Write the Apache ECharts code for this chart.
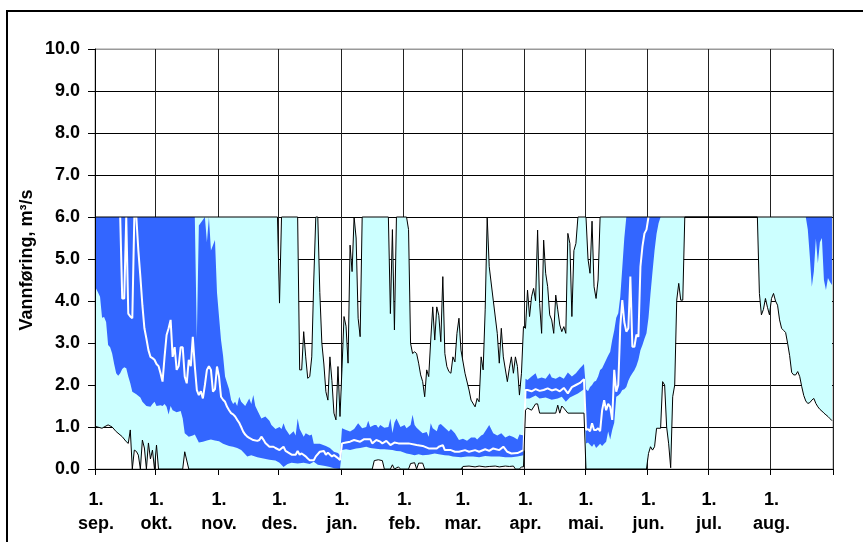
<!DOCTYPE html>
<html>
<head>
<meta charset="utf-8">
<script src="https://cdn.jsdelivr.net/npm/echarts@6/dist/echarts.min.js"></script>
<style>html,body{margin:0;padding:0;background:#fff}#c{width:863px;height:542px}</style>
</head>
<body>
<div id="c"></div>
<script>
// Axis categories: one per day, 1 Sep .. 31 Aug (leap year)
const monthNames = ['sep.','okt.','nov.','des.','jan.','feb.','mar.','apr.','mai.','jun.','jul.','aug.'];
const monthLengths = [30,31,30,31,31,29,31,30,31,30,31,31];
const yTicks = [0,1,2,3,4,5,6,7,8,9,10];
const yAxisTitle = 'Vannføring, m³/s';

// [dayIndex, m3/s] – highest observed (upper black line, cut at 6)
const maxFlow = [[0,6],[90,6],[91,3.95],[92,6],[100,6],[101,2.36],[102,2.36],[103,3.27],[104,2.67],[105,2.16],[106,2.2],[107,2.67],[108,4.5],[109,6],[110,6],[111,4.2],[112,3.0],[113,2.5],[114,1.84],[115,1.64],[116,2.67],[117,2.1],[118,1.33],[119,1.17],[120,2.44],[121,1.25],[122,2.4],[123,3.63],[124,3.4],[125,2.52],[126,5.33],[127,4.7],[128,6],[129,5.5],[130,3.59],[131,3.15],[132,6],[145,6],[146,3.7],[147,5.7],[148,3.31],[149,6],[154,6],[155,5.7],[156,2.99],[157,2.75],[158,2.79],[159,2.75],[160,2.52],[161,2.24],[162,2.08],[163,1.72],[164,2.36],[165,2.2],[166,3.07],[167,3.86],[168,3.07],[169,3.86],[170,3.66],[171,3.03],[172,4.58],[173,2.75],[174,2.44],[175,2.32],[176,2.28],[177,2.67],[178,2.55],[179,3.23],[180,3.59],[181,2.83],[183,2.28],[185,1.88],[186,1.64],[188,1.48],[189,1.68],[190,1.6],[191,2.67],[192,2.36],[193,3.79],[194,6],[195,4.82],[197,4.02],[199,3.23],[200,2.52],[201,3.35],[202,2.67],[204,2.08],[205,2.4],[206,2.67],[207,2.28],[208,2.67],[209,2.44],[210,1.76],[211,2.28],[212,3.39],[213,3.35],[214,4.26],[215,3.63],[216,4.1],[217,4.3],[218,4.0],[219,5.69],[220,3.94],[221,3.23],[222,5.45],[223,4.66],[224,4.34],[225,3.67],[226,3.55],[227,3.23],[228,4.14],[229,3.79],[230,3.43],[231,3.27],[232,3.39],[233,3.23],[234,5.61],[235,5.37],[236,3.63],[237,5.2],[238,5.37],[239,6],[243,6],[244,5.0],[245,4.66],[246,5.9],[247,4.34],[248,4.06],[249,4.5],[250,6],[365,6]];

// lowest observed (lower black line, cut at 6)
const minFlow = [[0,1.01],[3,0.97],[4,1.0],[6,1.05],[8,1.0],[10,0.89],[13,0.77],[15,0.65],[16,0.61],[17,0.93],[18,0],[19,0.45],[20,0.42],[21,0.33],[22,0],[23,0.69],[24,0.5],[25,0],[26,0.62],[27,0.24],[28,0.45],[29,0],[30,0.57],[31,0],[43,0],[44,0.41],[46,0],[137,0],[138,0.2],[140,0.22],[142,0.2],[143,0],[146,0],[147,0.1],[148,0],[150,0.05],[151,0],[155,0],[156,0.13],[158,0.15],[159,0],[160,0.14],[162,0.14],[163,0],[181,0],[182,0.06],[185,0.07],[188,0.05],[190,0.07],[193,0.05],[195,0.06],[198,0.07],[200,0.05],[203,0.07],[205,0.06],[207,0.07],[208,0],[210,0],[211,0.05],[212,0.05],[213,1.4],[214,1.45],[216,1.4],[218,1.55],[219,1.55],[220,1.33],[228,1.33],[229,1.52],[230,1.33],[231,1.5],[232,1.45],[234,1.33],[242,1.33],[243,0],[273,0],[274,0.37],[275,0.53],[276,0.45],[277,0.53],[278,0.97],[280,0.97],[281,2.08],[282,2.0],[283,1.0],[284,0.6],[285,0.03],[286,1.72],[287,2.0],[288,4.02],[289,4.42],[290,4.02],[291,4.02],[292,6],[328,6],[329,4.18],[330,3.67],[331,3.8],[332,4.06],[333,3.85],[334,3.67],[335,4.06],[336,4.18],[337,4.0],[338,3.9],[339,3.55],[340,3.35],[341,3.3],[342,3.25],[343,2.99],[344,2.7],[345,2.3],[346,2.24],[347,2.24],[348,2.32],[349,2.2],[350,1.96],[351,1.75],[352,1.62],[353,1.56],[354,1.58],[355,1.64],[356,1.68],[357,1.56],[358,1.48],[359,1.42],[360,1.38],[361,1.33],[362,1.29],[363,1.25],[364,1.2],[365,1.15]];

// 75th percentile (upper edge of blue band)
const p75 = [[0,6],[49,6],[50,3.1],[51,5.8],[54,6],[55,5.4],[56,6],[57,5.2],[59,5.45],[60,4.2],[61,3.63],[62,3.07],[63,2.7],[64,2.2],[65,2.05],[66,1.9],[67,1.64],[68,1.55],[69,1.6],[70,1.5],[71,1.72],[72,1.6],[74,1.5],[76,1.68],[77,1.55],[78,1.76],[79,1.5],[80,1.4],[82,1.2],[84,1.25],[86,1.15],[87,1.05],[89,0.95],[91,1.0],[92,0.95],[93,1.09],[94,0.95],[96,0.81],[98,0.9],[99,0.8],[100,1.2],[101,0.95],[103,0.77],[104,0.85],[106,0.8],[107,0.82],[108,0.6],[111,0.6],[114,0.55],[116,0.5],[118,0.41],[120,0.38],[121,0.33],[122,0.97],[124,0.93],[126,0.89],[128,0.95],[130,1.09],[132,0.97],[134,1.0],[135,1.15],[136,1.0],[138,1.05],[139,1.05],[140,0.98],[141,1.05],[143,0.98],[145,1.0],[146,1.2],[147,0.86],[148,1.1],[149,1.2],[151,1.0],[153,1.05],[154,0.97],[156,1.05],[157,1.29],[158,1.05],[159,0.98],[161,0.89],[162,0.85],[164,0.88],[165,0.77],[166,1.09],[167,0.97],[169,0.9],[170,1.05],[171,1.07],[173,0.98],[175,0.89],[176,0.95],[178,0.85],[180,0.69],[182,0.72],[184,0.67],[186,0.75],[188,0.75],[189,0.7],[191,0.8],[192,0.82],[194,0.97],[195,1.05],[197,0.85],[199,0.8],[201,0.85],[203,0.75],[205,0.8],[207,0.76],[209,0.7],[210,0.82],[212,0.8],[213,2.15],[214,2.12],[216,2.2],[218,2.28],[219,2.15],[221,2.18],[223,2.15],[225,2.28],[226,2.18],[228,2.15],[230,2.2],[232,2.15],[234,2.3],[236,2.2],[238,2.28],[240,2.4],[242,2.5],[243,1.9],[244,1.85],[245,1.95],[246,2.0],[247,2.08],[248,2.1],[249,2.2],[250,2.36],[251,2.4],[252,2.5],[253,2.6],[254,2.7],[255,2.79],[256,3.07],[257,3.3],[258,3.6],[259,3.71],[260,4.1],[261,4.8],[262,5.5],[263,6],[365,6]];

// 25th percentile (lower edge of blue band)
const p25 = [[0,4.3],[1,4.2],[2,4.1],[3,3.6],[4,3.62],[5,3.5],[6,2.95],[7,2.9],[8,2.75],[9,2.5],[10,2.28],[11,2.22],[12,2.28],[13,2.38],[14,2.42],[15,2.4],[16,2.2],[17,2.04],[18,1.84],[20,1.78],[22,1.7],[23,1.6],[25,1.5],[27,1.48],[28,1.55],[29,1.6],[30,1.5],[32,1.52],[33,1.5],[34,1.55],[35,1.48],[36,1.3],[37,1.5],[38,1.4],[40,1.35],[42,1.38],[43,1.2],[44,0.85],[46,0.77],[48,0.8],[49,0.82],[51,0.63],[53,0.65],[55,0.68],[57,0.7],[59,0.68],[61,0.66],[63,0.6],[66,0.55],[68,0.53],[70,0.5],[72,0.45],[74,0.35],[75,0.3],[77,0.33],[80,0.28],[83,0.25],[86,0.22],[89,0.2],[91,0.15],[93,0.05],[95,0.12],[97,0.15],[100,0.13],[103,0.15],[106,0.12],[108,0.17],[110,0.1],[113,0.08],[116,0.05],[118,0.02],[121,0.0],[122,0.45],[124,0.47],[126,0.45],[129,0.49],[131,0.5],[134,0.53],[136,0.5],[138,0.49],[141,0.47],[143,0.47],[147,0.45],[149,0.43],[151,0.42],[154,0.37],[156,0.35],[158,0.33],[160,0.35],[162,0.33],[165,0.34],[168,0.37],[170,0.35],[173,0.33],[175,0.32],[177,0.3],[181,0.28],[184,0.3],[187,0.3],[190,0.28],[193,0.31],[196,0.3],[200,0.3],[203,0.28],[206,0.28],[209,0.3],[212,0.33],[213,1.68],[215,1.68],[218,1.75],[220,1.68],[223,1.7],[226,1.65],[229,1.68],[231,1.72],[233,1.6],[235,1.7],[237,1.75],[239,1.8],[242,1.9],[243,0.61],[244,0.63],[245,0.58],[246,0.53],[247,0.6],[248,0.5],[249,0.55],[250,0.6],[251,0.55],[252,0.6],[253,0.65],[254,0.89],[255,0.7],[256,0.93],[257,1.1],[258,1.72],[259,1.75],[260,1.8],[261,1.88],[262,1.9],[263,1.95],[264,2.1],[265,2.2],[266,2.28],[267,2.35],[268,2.45],[269,2.6],[270,2.83],[271,2.95],[272,3.1],[273,3.23],[274,3.6],[275,4.18],[276,4.7],[277,5.2],[278,5.6],[279,5.85],[280,6],[352,6],[353,5.7],[354,5.06],[355,4.34],[356,4.7],[357,5.49],[358,4.9],[359,5.4],[360,5.5],[361,4.5],[362,4.26],[363,4.55],[364,4.45],[365,4.38]];

// median (white line)
const median = [[12,6],[13,4.06],[14,4.06],[15,6],[16,3.7],[17,3.63],[18,3.59],[19,6],[20,6],[21,5.2],[22,4.58],[23,3.9],[24,3.35],[25,3.1],[26,2.83],[27,2.67],[28,2.64],[29,2.6],[30,2.5],[31,2.45],[32,2.28],[33,2.08],[34,2.67],[35,3.19],[36,3.35],[37,3.55],[38,2.67],[39,2.9],[40,2.36],[41,2.45],[42,2.9],[43,2.9],[44,2.2],[45,2.04],[46,2.6],[47,2.45],[48,3.15],[49,2.45],[50,1.88],[51,1.76],[52,1.85],[53,1.68],[54,2.0],[55,2.36],[56,2.45],[57,2.36],[58,1.84],[59,1.9],[60,2.44],[61,2.2],[62,1.72],[63,1.65],[64,1.6],[65,1.48],[66,1.4],[67,1.33],[68,1.3],[69,1.25],[70,1.17],[71,1.1],[72,1.0],[73,0.89],[74,0.82],[75,0.77],[76,0.74],[78,0.69],[80,0.67],[81,0.69],[82,0.77],[83,0.7],[84,0.62],[86,0.53],[88,0.53],[89,0.5],[91,0.45],[93,0.53],[94,0.43],[96,0.37],[97,0.34],[99,0.34],[100,0.43],[101,0.34],[102,0.37],[104,0.3],[105,0.25],[106,0.21],[108,0.21],[109,0.3],[111,0.41],[113,0.43],[114,0.34],[115,0.39],[117,0.3],[118,0.33],[120,0.26],[121,0.21],[122,0.61],[124,0.63],[126,0.65],[128,0.69],[131,0.65],[133,0.71],[136,0.71],[137,0.61],[139,0.69],[141,0.65],[142,0.61],[144,0.67],[146,0.57],[148,0.63],[150,0.61],[152,0.61],[155,0.61],[159,0.57],[162,0.55],[165,0.49],[169,0.49],[170,0.53],[172,0.57],[173,0.45],[176,0.45],[178,0.41],[180,0.41],[183,0.45],[185,0.41],[188,0.45],[190,0.41],[193,0.47],[195,0.43],[197,0.49],[200,0.45],[202,0.53],[204,0.41],[206,0.37],[209,0.38],[212,0.45],[213,1.88],[214,1.88],[216,1.85],[218,1.9],[220,1.86],[222,1.88],[224,1.92],[226,1.87],[228,1.9],[230,1.85],[232,1.93],[234,1.8],[236,1.95],[238,2.0],[240,2.05],[242,2.14],[243,0.93],[244,0.95],[245,0.9],[246,1.09],[247,0.93],[248,0.93],[249,0.97],[250,0.9],[251,1.4],[252,1.64],[253,1.4],[254,1.55],[255,1.48],[256,1.17],[257,2.36],[258,1.84],[259,2.0],[260,3.39],[261,4.02],[262,3.5],[263,3.27],[264,3.35],[265,4.58],[266,2.91],[267,2.91],[268,3.2],[269,3.15],[270,4.82],[271,5.3],[272,5.61],[273,5.7],[274,6]];

const dayCategories = [];
monthNames.forEach((m, i) => {
  for (let d = 1; d <= monthLengths[i]; d++) dayCategories.push(d === 1 ? '1.\n' + m : d + '. ' + m);
});
const isMonthStart = (idx, val) => typeof val === 'string' && val.indexOf('1.\n') === 0;
const monthStartIdx = (idx) => isMonthStart(idx, dayCategories[idx]);
const hGridColors = yTicks.map(v => v === 10 ? '#999' : '#000');

function band(upper, lower, color) {
  return {
    type: 'custom', silent: true, data: upper,
    renderItem: function (params, api) {
      if (params.dataIndex !== 0) return null;
      const pts = upper.map(p => api.coord(p)).concat(lower.slice().reverse().map(p => api.coord(p)));
      return { type: 'polygon', shape: { points: pts }, style: { fill: color, stroke: null } };
    }
  };
}

const FONT = '"Liberation Sans", Arial, sans-serif';
const chart = echarts.init(document.getElementById('c'), null, { renderer: 'canvas' });
chart.setOption({
  animation: false,
  backgroundColor: '#fff',
  graphic: [
    { type: 'rect', shape: { x: 7, y: 11, width: 900, height: 600 }, style: { fill: null, stroke: '#000', lineWidth: 2 }, z: 100, silent: true },
    { type: 'text', x: 27, y: 260, rotation: Math.PI / 2, silent: true, z: 100,
      style: { text: yAxisTitle, fill: '#000', font: 'bold 18px ' + FONT, textAlign: 'center', textVerticalAlign: 'middle' } }
  ],
  grid: { left: 95, right: 30, top: 49, bottom: 73, show: true, borderColor: '#999', borderWidth: 1, backgroundColor: '#fff' },
  xAxis: {
    type: 'category', data: dayCategories, boundaryGap: true,
    axisLine: { show: true, lineStyle: { color: '#000', width: 1 } },
    axisTick: { show: true, interval: monthStartIdx, length: 6, lineStyle: { color: '#000' } },
    axisLabel: { interval: isMonthStart, margin: 19, color: '#000', fontFamily: FONT, fontWeight: 'bold', fontSize: 18, lineHeight: 24, align: 'center' },
    splitLine: { show: true, interval: monthStartIdx, lineStyle: { color: '#222', width: 1 } }
  },
  yAxis: {
    type: 'value', min: 0, max: 10, interval: 1,
    axisLine: { show: true, lineStyle: { color: '#000', width: 1 } },
    axisTick: { show: true, length: 7, lineStyle: { color: '#000' } },
    axisLabel: { margin: 15, color: '#000', fontFamily: FONT, fontWeight: 'bold', fontSize: 18, formatter: v => v.toFixed(1) },
    splitLine: { show: true, lineStyle: { color: hGridColors, width: 1 } }
  },
  series: [
    band(maxFlow, minFlow, '#CCFFFF'),
    band(p75, p25, '#3366FF'),
    { type: 'line', data: median, showSymbol: false, symbol: 'none', lineStyle: { color: '#fff', width: 2 }, silent: true },
    { type: 'line', data: minFlow, showSymbol: false, symbol: 'none', lineStyle: { color: '#000', width: 1 }, silent: true },
    { type: 'line', data: maxFlow, showSymbol: false, symbol: 'none', lineStyle: { color: '#000', width: 1 }, silent: true }
  ]
});
</script>
</body>
</html>
